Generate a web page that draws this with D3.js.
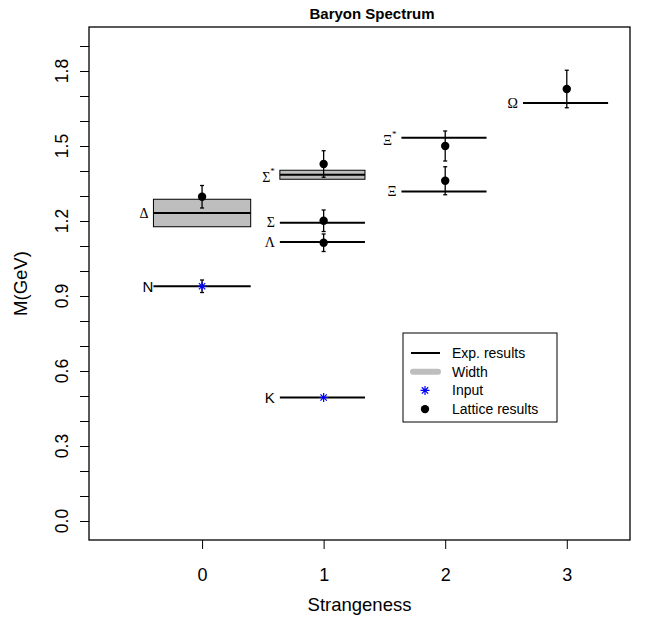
<!DOCTYPE html>
<html>
<head>
<meta charset="utf-8">
<script src="https://cdn.jsdelivr.net/npm/d3@7"></script>
<style>
  html, body { margin: 0; padding: 0; background: #fff; }
  svg { display: block; }
</style>
</head>
<body>
<svg id="chart" width="652" height="621"></svg>
<script>
// Experimental baryon masses (GeV) grouped by strangeness
const states       = ["N", "Δ", "Λ", "Σ", "Σ*", "Ξ", "Ξ*", "Ω", "K"];
const strangeness  = [0, 0, 1, 1, 1, 2, 2, 3, 1];
const expMass      = [0.939, 1.232, 1.116, 1.193, 1.385, 1.318, 1.533, 1.672, 0.494];
// decay widths (GeV); zero where no band is drawn
const widths       = [0, 0.110, 0, 0, 0.036, 0, 0, 0, 0];

// lattice results: states computed, mass and error
const latticeStates = ["Δ", "Λ", "Σ", "Σ*", "Ξ", "Ξ*", "Ω"];
const latticeMass   = [1.297, 1.113, 1.201, 1.428, 1.361, 1.500, 1.728];
const latticeErr    = [0.045, 0.035, 0.043, 0.053, 0.056, 0.060, 0.075];

// inputs used to fix the parameters
const inputStates = ["N", "K"];
const inputMass   = [0.939, 0.494];
const inputErr    = [0.025, 0];

const xTicks = [0, 1, 2, 3];
const yTicks = d3.range(0, 1.95, 0.1);
const yLabelTicks = [0.0, 0.3, 0.6, 0.9, 1.2, 1.5, 1.8];

const legendLabels = ["Exp. results", "Width", "Input", "Lattice results"];

const svg = d3.select("#chart");
const sans = "'Liberation Sans', Arial, Helvetica, sans-serif";
const serif = "'Liberation Serif', 'Times New Roman', serif";

const x = d3.scaleLinear().domain([-0.93, 3.52]).range([89, 630]);
const y = d3.scaleLinear().domain([-0.076, 1.976]).range([540, 27]);

// horizontal extent of each level line
function span(s) {
  return s === 0 ? [s - 0.4, s + 0.4] : [s - 0.36, s + 0.34];
}

// plot frame
svg.append("rect")
  .attr("x", x.range()[0]).attr("y", y.range()[1])
  .attr("width", x.range()[1] - x.range()[0])
  .attr("height", y.range()[0] - y.range()[1])
  .attr("fill", "none").attr("stroke", "#000").attr("stroke-width", 1.3);

// axes
const xAxis = svg.append("g")
  .attr("transform", `translate(0,${y.range()[0]})`)
  .call(d3.axisBottom(x).tickValues(xTicks).tickSize(9).tickPadding(19).tickFormat(d3.format("d")));
xAxis.select(".domain").remove();
xAxis.selectAll("line").attr("stroke", "#000");
xAxis.selectAll("text").attr("font-family", sans).attr("font-size", 18).attr("fill", "#000");

const yAxis = svg.append("g")
  .attr("transform", `translate(${x.range()[0]},0)`)
  .call(d3.axisLeft(y).tickValues(yTicks).tickSize(9).tickFormat(""));
yAxis.select(".domain").remove();
yAxis.selectAll("line").attr("stroke", "#000");

svg.append("g").selectAll("text")
  .data(yLabelTicks)
  .join("text")
  .attr("transform", d => `translate(68,${y(d)}) rotate(-90)`)
  .attr("text-anchor", "middle")
  .attr("font-family", sans).attr("font-size", 17.5)
  .text(d => d3.format(".1f")(d));

// axis titles and main title
svg.append("text")
  .attr("x", (x.range()[0] + x.range()[1]) / 2).attr("y", 611)
  .attr("text-anchor", "middle")
  .attr("font-family", sans).attr("font-size", 18.5)
  .text("Strangeness");

svg.append("text")
  .attr("transform", `translate(27,${(y.range()[0] + y.range()[1]) / 2}) rotate(-90)`)
  .attr("text-anchor", "middle")
  .attr("font-family", sans).attr("font-size", 18.5)
  .text("M(GeV)");

svg.append("text")
  .attr("x", 372).attr("y", 19)
  .attr("text-anchor", "middle")
  .attr("font-family", sans).attr("font-size", 15).attr("font-weight", "bold")
  .text("Baryon Spectrum");

const levels = states.map((name, i) => ({
  name, s: strangeness[i], m: expMass[i], w: widths[i]
}));

// width bands
svg.append("g").selectAll("rect")
  .data(levels.filter(d => d.w > 0))
  .join("rect")
  .attr("x", d => x(span(d.s)[0]))
  .attr("width", d => x(span(d.s)[1]) - x(span(d.s)[0]))
  .attr("y", d => y(d.m + d.w / 2))
  .attr("height", d => y(d.m - d.w / 2) - y(d.m + d.w / 2))
  .attr("fill", "#bebebe").attr("stroke", "#000").attr("stroke-width", 1);

// experimental levels
svg.append("g").selectAll("line")
  .data(levels)
  .join("line")
  .attr("x1", d => x(span(d.s)[0]))
  .attr("x2", d => x(span(d.s)[1]))
  .attr("y1", d => y(d.m)).attr("y2", d => y(d.m))
  .attr("stroke", "#000").attr("stroke-width", 2);

// state names
const labels = svg.append("g").selectAll("text")
  .data(levels)
  .join("text")
  .attr("x", d => x(span(d.s)[0]) - (d.name === "N" ? 0 : 5))
  .attr("y", d => y(d.m) + (d.name.endsWith("*") ? 2 : 0))
  .attr("text-anchor", "end")
  .attr("dominant-baseline", "central")
  .attr("font-family", d => (d.name === "N" || d.name === "K") ? sans : serif)
  .attr("font-size", d => (d.name === "N" || d.name === "K") ? 15 : 14);
labels.each(function (d) {
  const t = d3.select(this);
  if (d.name.endsWith("*")) {
    t.append("tspan").text(d.name.slice(0, -1));
    t.append("tspan").attr("dy", -6).attr("font-size", 9).text("*");
  } else {
    t.text(d.name);
  }
});

// error bars with caps
function errorBar(g, xs, m, e) {
  if (e <= 0) return;
  g.append("line").attr("x1", xs).attr("x2", xs)
    .attr("y1", y(m - e)).attr("y2", y(m + e))
    .attr("stroke", "#000").attr("stroke-width", 1.3);
  [m - e, m + e].forEach(v => g.append("line")
    .attr("x1", xs - 2).attr("x2", xs + 2)
    .attr("y1", y(v)).attr("y2", y(v))
    .attr("stroke", "#000").attr("stroke-width", 1.3));
}

const latGroup = svg.append("g");
latticeStates.forEach((name, i) => {
  const s = strangeness[states.indexOf(name)];
  errorBar(latGroup, x(s), latticeMass[i], latticeErr[i]);
  latGroup.append("circle")
    .attr("cx", x(s)).attr("cy", y(latticeMass[i])).attr("r", 4.2)
    .attr("fill", "#000");
});

// asterisk marker (plus over cross)
function star(g, cx, cy, r, color) {
  const d = r * Math.SQRT1_2;
  const p = `M${cx - r},${cy}L${cx + r},${cy}M${cx},${cy - r}L${cx},${cy + r}` +
            `M${cx - d},${cy - d}L${cx + d},${cy + d}M${cx - d},${cy + d}L${cx + d},${cy - d}`;
  g.append("path").attr("d", p).attr("stroke", color).attr("stroke-width", 1.2).attr("fill", "none");
}

const inGroup = svg.append("g");
inputStates.forEach((name, i) => {
  const s = strangeness[states.indexOf(name)];
  errorBar(inGroup, x(s), inputMass[i], inputErr[i]);
  star(inGroup, x(s), y(inputMass[i]), 4.5, "#0000ff");
});

// legend
const lg = svg.append("g");
lg.append("rect").attr("x", 403).attr("y", 333).attr("width", 154).attr("height", 89)
  .attr("fill", "#fff").attr("stroke", "#000").attr("stroke-width", 1);
const rowY = i => 353 + i * 18.7;
lg.selectAll("text").data(legendLabels).join("text")
  .attr("x", 452).attr("y", (d, i) => rowY(i))
  .attr("dominant-baseline", "central")
  .attr("font-family", sans).attr("font-size", 14)
  .text(d => d);
lg.append("line").attr("x1", 411).attr("x2", 440).attr("y1", rowY(0)).attr("y2", rowY(0))
  .attr("stroke", "#000").attr("stroke-width", 2);
lg.append("line").attr("x1", 413).attr("x2", 438).attr("y1", rowY(1)).attr("y2", rowY(1))
  .attr("stroke", "#bebebe").attr("stroke-width", 6).attr("stroke-linecap", "round");
star(lg, 425, rowY(2), 4.5, "#0000ff");
lg.append("circle").attr("cx", 425).attr("cy", rowY(3)).attr("r", 4.2).attr("fill", "#000");
</script>
</body>
</html>
